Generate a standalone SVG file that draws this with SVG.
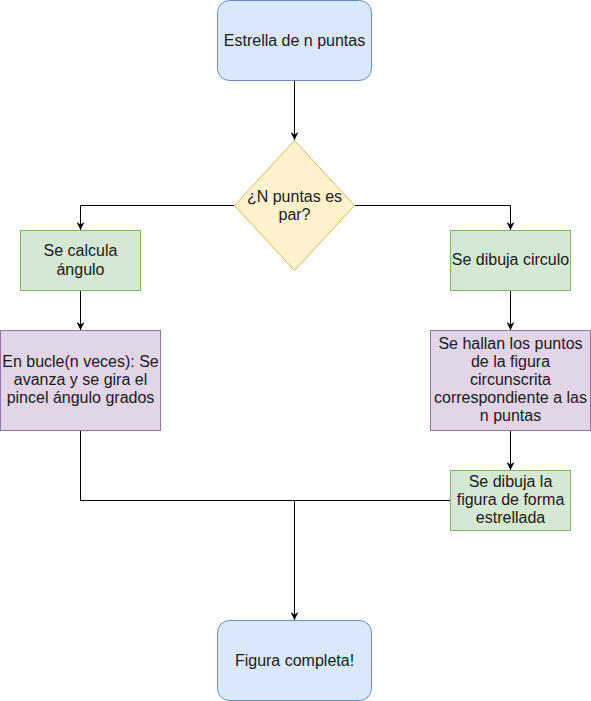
<svg xmlns="http://www.w3.org/2000/svg" width="591" height="701" viewBox="0 0 591 701">
<defs>
<marker id="arr" viewBox="0 0 10 10" refX="10" refY="5" markerWidth="8" markerHeight="8" markerUnits="userSpaceOnUse" orient="auto">
<path d="M0,0 L10,5 L0,10 L3,5 Z" fill="#000"/>
</marker>
<style>
text{font-family:"Liberation Sans",Arial,Helvetica,sans-serif;font-size:16px;fill:#1a1a1a;text-anchor:middle}
.blue{fill:#dae8fc;stroke:#6c8ebf;stroke-width:1}
.yel{fill:#fff2cc;stroke:#d6b656;stroke-width:1}
.grn{fill:#d5e8d4;stroke:#82b366;stroke-width:1}
.pur{fill:#e1d5e7;stroke:#9673a6;stroke-width:1}
.edge{fill:none;stroke:#000;stroke-width:1}
</style>
</defs>
<rect width="591" height="701" fill="#fff"/>
<g id="connectors">
<path class="edge" d="M294.5,80.5 L294.5,140" marker-end="url(#arr)"/>
<path class="edge" d="M234.5,205.5 L80.5,205.5 L80.5,230" marker-end="url(#arr)"/>
<path class="edge" d="M354.5,205.5 L510.5,205.5 L510.5,230" marker-end="url(#arr)"/>
<path class="edge" d="M80.5,290.5 L80.5,330" marker-end="url(#arr)"/>
<path class="edge" d="M510.5,290.5 L510.5,330" marker-end="url(#arr)"/>
<path class="edge" d="M510.5,430.5 L510.5,470" marker-end="url(#arr)"/>
<path class="edge" d="M80.5,430.5 L80.5,500.5 L294.5,500.5 L294.5,620" marker-end="url(#arr)"/>
<path class="edge" d="M450.5,500.5 L294.5,500.5"/>
</g>
<g id="start">
<rect class="blue" x="217.5" y="0.5" width="154" height="80" rx="12"/>
<text x="294.5" y="46">Estrella de n puntas</text>
</g>
<g id="decision">
<polygon class="yel" points="294.5,140.5 354.5,205.5 294.5,270.5 234.5,205.5"/>
<text x="294.5" y="202">¿N puntas es</text>
<text x="294.5" y="220">par?</text>
</g>
<g id="calc">
<rect class="grn" x="20.5" y="230.5" width="120" height="60"/>
<text x="80.5" y="256">Se calcula</text>
<text x="80.5" y="275">ángulo</text>
</g>
<g id="loop">
<rect class="pur" x="0.5" y="330.5" width="160" height="100"/>
<text x="80.5" y="367">En bucle(n veces): Se</text>
<text x="80.5" y="385">avanza y se gira el</text>
<text x="80.5" y="403">pincel ángulo grados</text>
</g>
<g id="circle">
<rect class="grn" x="450.5" y="230.5" width="120" height="60"/>
<text x="510.5" y="265">Se dibuja circulo</text>
</g>
<g id="points">
<rect class="pur" x="430.5" y="330.5" width="160" height="100"/>
<text x="510.5" y="349">Se hallan los puntos</text>
<text x="510.5" y="367">de la figura</text>
<text x="510.5" y="385">circunscrita</text>
<text x="510.5" y="403">correspondiente a las</text>
<text x="510.5" y="421">n puntas</text>
</g>
<g id="star">
<rect class="grn" x="450.5" y="470.5" width="120" height="60"/>
<text x="510.5" y="487">Se dibuja la</text>
<text x="510.5" y="505">figura de forma</text>
<text x="510.5" y="523">estrellada</text>
</g>
<g id="end">
<rect class="blue" x="217.5" y="620.5" width="154" height="80" rx="12"/>
<text x="294.5" y="666">Figura completa!</text>
</g>
</svg>
